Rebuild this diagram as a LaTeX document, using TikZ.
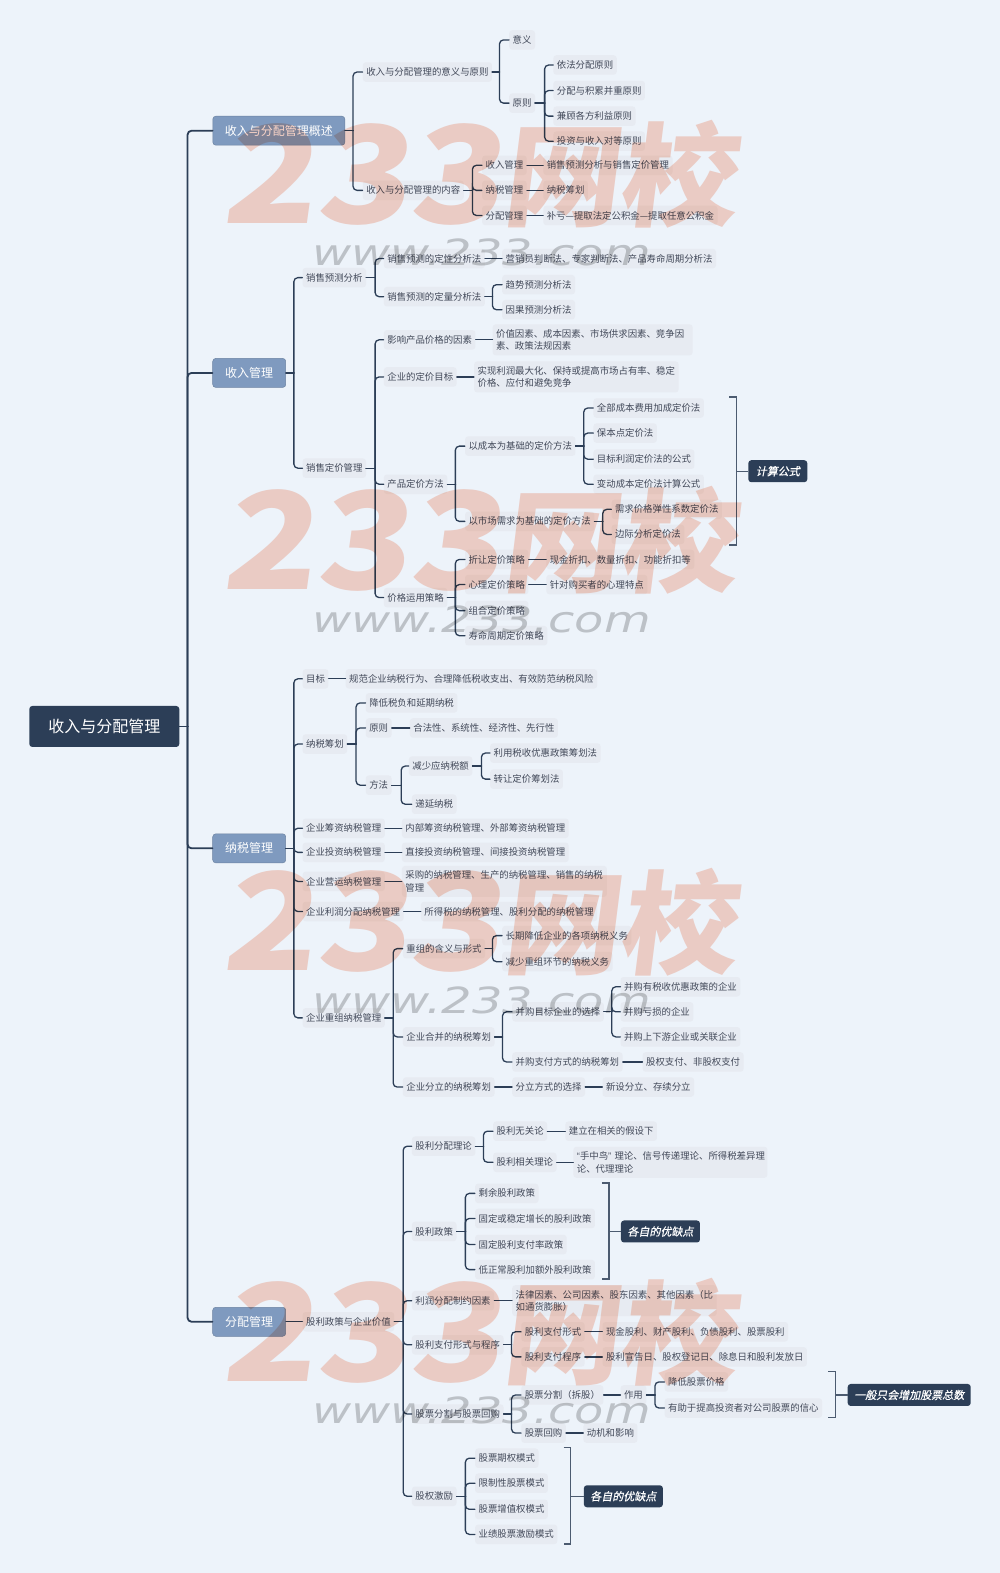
\documentclass[tikz,border=0pt]{standalone}
\usepackage{fontspec}
\setmainfont{Noto Sans CJK SC}
\newfontfamily\slantfont[FakeSlant=0.2]{Noto Sans CJK SC}
\newfontfamily\wmfont[FakeSlant=0.12]{Noto Sans CJK SC}
\newfontfamily\calloutfont[FakeSlant=0.2,FakeBold=0.6]{Noto Sans CJK SC}
\newfontfamily\wwwfont{DejaVu Sans}
\newfontfamily\quotefont{Liberation Sans}
\definecolor{bgc}{HTML}{EDF3FA}
\definecolor{itemfill}{HTML}{E7EBF2}
\definecolor{itemtext}{HTML}{424959}
\definecolor{darkc}{HTML}{2C3E57}
\definecolor{topicc}{HTML}{7F9ABF}
\definecolor{linec}{HTML}{2C3E57}
\definecolor{wmred}{HTML}{FCD6C8}
\definecolor{wmgray}{HTML}{CBCBCB}
\tikzset{
  item/.style={anchor=west,fill=itemfill,text=itemtext,rounded corners=3pt,inner xsep=3.5pt,inner ysep=0pt,minimum height=19.5pt,align=left,font=\fontsize{9.4}{12.5}\selectfont},
  wrapitem/.style={item,minimum height=31pt},
  rootbox/.style={anchor=center,fill=darkc,text=white,rounded corners=3pt,minimum width=150pt,minimum height=41pt,inner sep=0pt,font=\fontsize{16}{18}\selectfont},
  topic/.style={anchor=center,fill=topicc,draw=topicc!85!black,line width=.5pt,text=white,rounded corners=3pt,minimum height=29pt,inner sep=0pt,font=\fontsize{12}{14}\selectfont},
  callout/.style={anchor=center,fill=darkc,text=white,rounded corners=3pt,minimum height=22pt,inner sep=0pt,font=\calloutfont\fontsize{11}{13}\selectfont},
  link/.style={draw=linec,line width=1.3pt,rounded corners=4pt,line cap=round},
  brace/.style={draw=linec!85!white,line width=1.4pt,line join=miter},
  wmbig/.style={text=wmred,inner sep=0pt,font=\wmfont\bfseries\fontsize{135}{135}\selectfont,xscale=1.14,anchor=center},
  wmcjk/.style={text=wmred,inner sep=0pt,font=\wmfont\bfseries\fontsize{112}{112}\selectfont,xscale=1.05,anchor=center},
  wmweb/.style={text=wmgray,inner sep=0pt,font=\wwwfont\fontsize{36}{36}\selectfont\itshape,xscale=1.33,anchor=center},
}
\newcommand{\nitem}[4]{\node[item] (#1) at ({#2-3.5},#3) {#4};}
\newcommand{\tree}[3]{\draw[link] (#1.east) -- (#3,0 |- #1.east);\draw[link] (#3,0 |- #1.east) -- (#3,0 |- #2.west) -- (#2.west);}
\newcommand{\direct}[2]{\draw[link] (#1.east) -- (#2.west);}
\newcommand{\bracket}[6]{% name, x1, x2, y1, y2, callout
  \coordinate (#1a) at (#2,#4);
  \coordinate (#1b) at (#3,#4);
  \coordinate (#1c) at (#3,#5);
  \coordinate (#1d) at (#2,#5);
  \draw[brace] (#1a) -- (#1b) -- (#1c) -- (#1d);
  \draw[brace] (#3,0 |- #6.west) -- (#6.west);}
\newcommand{\wmark}[2]{%
  \node[wmbig] (wma#1) at (361,{#1+174-122}) {233};
  \node[wmcjk] (wmb#1) at (617,{#1+174-122}) {网校};
  \node[wmweb] (wmc#1) at (480,{#2}) {www.233.com};}
\begin{document}
\begin{tikzpicture}[x=1.003pt,y=-1.003pt]
\useasboundingbox (0,0) rectangle (997,1568.3);
\fill[bgc] (0,0) rectangle (997,1568.3);
\begin{scope}[yshift=-0.8pt]
% root and topics
\node[rootbox] (root) at (104,723.5) {收入与分配管理};
\node[topic,minimum width=132pt] (ta) at (278,129.5) {收入与分配管理概述};
\node[topic,minimum width=73pt] (tb) at (248.5,371) {收入管理};
\node[topic,minimum width=73pt] (tc) at (248.5,845) {纳税管理};
\node[topic,minimum width=73pt] (td) at (248.5,1317) {分配管理};
\begin{scope}[link/.append style={line width=1.8pt}]
\tree{root}{ta}{187}\tree{root}{tb}{187}\tree{root}{tc}{187}\tree{root}{td}{187}
\end{scope}
% A
\nitem{a1}{365}{71}{收入与分配管理的意义与原则}
\nitem{a2}{365}{189}{收入与分配管理的内容}
\tree{ta}{a1}{352}\tree{ta}{a2}{352}
\nitem{a11}{511}{39}{意义}
\nitem{a12}{511}{102}{原则}
\tree{a1}{a11}{498}\tree{a1}{a12}{498}
\nitem{a121}{555}{64}{依法分配原则}
\nitem{a122}{555}{89.5}{分配与积累并重原则}
\nitem{a123}{555}{115}{兼顾各方利益原则}
\nitem{a124}{555}{140}{投资与收入对等原则}
\tree{a12}{a121}{543}\tree{a12}{a122}{543}\tree{a12}{a123}{543}\tree{a12}{a124}{543}
\nitem{a21}{484}{164}{收入管理}
\nitem{a22}{484}{189}{纳税管理}
\nitem{a23}{484}{214}{分配管理}
\tree{a2}{a21}{471}\tree{a2}{a22}{471}\tree{a2}{a23}{471}
\nitem{a211}{545}{164}{销售预测分析与销售定价管理}
\nitem{a221}{545}{189}{纳税筹划}
\nitem{a231}{545}{214}{补亏—提取法定公积金—提取任意公积金}
\direct{a21}{a211}\direct{a22}{a221}\direct{a23}{a231}
% B
\nitem{b1}{305}{276}{销售预测分析}
\nitem{b2}{305}{466}{销售定价管理}
\tree{tb}{b1}{293}\tree{tb}{b2}{293}
\nitem{b11}{386}{257}{销售预测的定性分析法}
\nitem{b12}{386}{295}{销售预测的定量分析法}
\tree{b1}{b11}{374}\tree{b1}{b12}{374}
\nitem{b111}{504}{257}{营销员判断法、专家判断法、产品寿命周期分析法}
\direct{b11}{b111}
\nitem{b121}{504}{283}{趋势预测分析法}
\nitem{b122}{504}{308}{因果预测分析法}
\tree{b12}{b121}{491}\tree{b12}{b122}{491}
\nitem{b21}{386}{338}{影响产品价格的因素}
\nitem{b22}{386}{375}{企业的定价目标}
\nitem{b23}{386}{482}{产品定价方法}
\nitem{b24}{386}{595}{价格运用策略}
\tree{b2}{b21}{374}\tree{b2}{b22}{374}\tree{b2}{b23}{374}\tree{b2}{b24}{374}
\node[wrapitem,text width=193pt] (b211) at (491,338) {价值因素、成本因素、市场供求因素、竞争因\\素、政策法规因素};
\node[wrapitem,text width=197.5pt] (b221) at (472.5,375) {实现利润最大化、保持或提高市场占有率、稳定\\价格、应付和避免竞争};
\direct{b21}{b211}\direct{b22}{b221}
\nitem{b231}{467}{444}{以成本为基础的定价方法}
\nitem{b232}{467}{519}{以市场需求为基础的定价方法}
\tree{b23}{b231}{454}\tree{b23}{b232}{454}
\nitem{b2311}{595}{406}{全部成本费用加成定价法}
\nitem{b2312}{595}{431}{保本点定价法}
\nitem{b2313}{595}{457}{目标利润定价法的公式}
\nitem{b2314}{595}{482}{变动成本定价法计算公式}
\tree{b231}{b2311}{582}\tree{b231}{b2312}{582}\tree{b231}{b2313}{582}\tree{b231}{b2314}{582}
\nitem{b2321}{613}{507}{需求价格弹性系数定价法}
\nitem{b2322}{613}{532}{边际分析定价法}
\tree{b232}{b2321}{601}\tree{b232}{b2322}{601}
\node[callout,minimum width=59pt] (cb) at (775.5,469) {计算公式};
\bracket{brb}{727}{734}{395}{542.5}{cb}
\nitem{b241}{467}{557}{折让定价策略}
\nitem{b242}{467}{582}{心理定价策略}
\nitem{b243}{467}{608}{组合定价策略}
\nitem{b244}{467}{633}{寿命周期定价策略}
\tree{b24}{b241}{454}\tree{b24}{b242}{454}\tree{b24}{b243}{454}\tree{b24}{b244}{454}
\nitem{b2411}{548}{557}{现金折扣、数量折扣、功能折扣等}
\nitem{b2421}{548}{582}{针对购买者的心理特点}
\direct{b241}{b2411}\direct{b242}{b2421}
% C
\nitem{c1}{305}{676}{目标}
\nitem{c2}{305}{741}{纳税筹划}
\nitem{c3}{305}{825}{企业筹资纳税管理}
\nitem{c4}{305}{849}{企业投资纳税管理}
\nitem{c5}{305}{878}{企业营运纳税管理}
\nitem{c6}{305}{908}{企业利润分配纳税管理}
\nitem{c7}{305}{1014}{企业重组纳税管理}
\tree{tc}{c1}{293}\tree{tc}{c2}{293}\tree{tc}{c3}{293}\tree{tc}{c4}{293}\tree{tc}{c5}{293}\tree{tc}{c6}{293}\tree{tc}{c7}{293}
\nitem{c11}{348}{676}{规范企业纳税行为、合理降低税收支出、有效防范纳税风险}
\direct{c1}{c11}
\nitem{c21}{368}{700}{降低税负和延期纳税}
\nitem{c22}{368}{725}{原则}
\nitem{c23}{368}{782}{方法}
\tree{c2}{c21}{355}\tree{c2}{c22}{355}\tree{c2}{c23}{355}
\nitem{c221}{412}{725}{合法性、系统性、经济性、先行性}
\direct{c22}{c221}
\nitem{c231}{411}{763}{减少应纳税额}
\nitem{c232}{414}{801}{递延纳税}
\tree{c23}{c231}{400}\tree{c23}{c232}{400}
\nitem{c2311}{492}{750}{利用税收优惠政策筹划法}
\nitem{c2312}{492}{776}{转让定价筹划法}
\tree{c231}{c2311}{480}\tree{c231}{c2312}{480}
\nitem{c31}{404}{825}{内部筹资纳税管理、外部筹资纳税管理}
\nitem{c41}{404}{849}{直接投资纳税管理、间接投资纳税管理}
\node[wrapitem,text width=198pt] (c51) at (400.5,878) {采购的纳税管理、生产的纳税管理、销售的纳税\\管理};
\nitem{c61}{423}{908}{所得税的纳税管理、股利分配的纳税管理}
\direct{c3}{c31}\direct{c4}{c41}\direct{c5}{c51}\direct{c6}{c61}
\nitem{c71}{405}{945}{重组的含义与形式}
\nitem{c72}{405}{1033}{企业合并的纳税筹划}
\nitem{c73}{405}{1083}{企业分立的纳税筹划}
\tree{c7}{c71}{392}\tree{c7}{c72}{392}\tree{c7}{c73}{392}
\nitem{c711}{504}{932}{长期降低企业的各项纳税义务}
\nitem{c712}{504}{958}{减少重组环节的纳税义务}
\tree{c71}{c711}{491}\tree{c71}{c712}{491}
\nitem{c721}{514}{1008}{并购目标企业的选择}
\nitem{c722}{514}{1058}{并购支付方式的纳税筹划}
\tree{c72}{c721}{501}\tree{c72}{c722}{501}
\nitem{c7211}{622}{983}{并购有税收优惠政策的企业}
\nitem{c7212}{622}{1008}{并购亏损的企业}
\nitem{c7213}{622}{1033}{并购上下游企业或关联企业}
\tree{c721}{c7211}{610}\tree{c721}{c7212}{610}\tree{c721}{c7213}{610}
\nitem{c7221}{644}{1058}{股权支付、非股权支付}
\direct{c722}{c7221}
\nitem{c731}{514}{1083}{分立方式的选择}
\nitem{c7311}{604}{1083}{新设分立、存续分立}
\direct{c73}{c731}\direct{c731}{c7311}
% D
\nitem{d0}{305}{1317}{股利政策与企业价值}
\direct{td}{d0}
\nitem{d1}{414}{1142}{股利分配理论}
\nitem{d2}{414}{1227}{股利政策}
\nitem{d3}{414}{1296}{利润分配制约因素}
\nitem{d4}{414}{1340}{股利支付形式与程序}
\nitem{d5}{414}{1409}{股票分割与股票回购}
\nitem{d6}{414}{1491}{股权激励}
\tree{d0}{d1}{402}\tree{d0}{d2}{402}\tree{d0}{d3}{402}\tree{d0}{d4}{402}\tree{d0}{d5}{402}\tree{d0}{d6}{402}
\nitem{d11}{495}{1127}{股利无关论}
\nitem{d12}{495}{1158}{股利相关理论}
\tree{d1}{d11}{482}\tree{d1}{d12}{482}
\nitem{d111}{567}{1127}{建立在相关的假设下}
\node[wrapitem,text width=187pt] (d121) at (571.5,1158) {\mbox{{\quotefont“}手中鸟{\quotefont”} 理论、信号传递理论、所得税差异理}\\论、代理理论};
\direct{d11}{d111}\direct{d12}{d121}
\nitem{d21}{477}{1189}{剩余股利政策}
\nitem{d22}{477}{1214}{固定或稳定增长的股利政策}
\nitem{d23}{477}{1240}{固定股利支付率政策}
\nitem{d24}{477}{1265}{低正常股利加额外股利政策}
\tree{d2}{d21}{464}\tree{d2}{d22}{464}\tree{d2}{d23}{464}\tree{d2}{d24}{464}
\node[callout,minimum width=79pt] (cd2) at (658.5,1227) {各自的优缺点};
\bracket{brd}{600}{607}{1178.5}{1274.5}{cd2}
\node[wrapitem,text width=197.5pt] (d31) at (510.5,1296) {法律因素、公司因素、股东因素、其他因素（比\\如通货膨胀）};
\direct{d3}{d31}
\nitem{d41}{523}{1327}{股利支付形式}
\nitem{d42}{523}{1352}{股利支付程序}
\tree{d4}{d41}{510}\tree{d4}{d42}{510}
\nitem{d411}{604}{1327}{现金股利、财产股利、负债股利、股票股利}
\nitem{d421}{604}{1352}{股利宣告日、股权登记日、除息日和股利发放日}
\direct{d41}{d411}\direct{d42}{d421}
\nitem{d51}{523}{1390}{股票分割（拆股）}
\nitem{d52}{523}{1428}{股票回购}
\tree{d5}{d51}{510}\tree{d5}{d52}{510}
\nitem{d511}{622}{1390}{作用}
\direct{d51}{d511}
\nitem{d5111}{666}{1377}{降低股票价格}
\nitem{d5112}{666}{1403}{有助于提高投资者对公司股票的信心}
\tree{d511}{d5111}{653}\tree{d511}{d5112}{653}
\node[callout,minimum width=123pt] (cd5) at (906.5,1390) {一般只会增加股票总数};
\bracket{bre}{826}{833}{1366.5}{1412.5}{cd5}
\nitem{d521}{585}{1428}{动机和影响}
\direct{d52}{d521}
\nitem{d61}{477}{1453}{股票期权模式}
\nitem{d62}{477}{1478}{限制性股票模式}
\nitem{d63}{477}{1504}{股票增值权模式}
\nitem{d64}{477}{1529}{业绩股票激励模式}
\tree{d6}{d61}{464}\tree{d6}{d62}{464}\tree{d6}{d63}{464}\tree{d6}{d64}{464}
\node[callout,minimum width=79pt] (cd6) at (621.5,1491) {各自的优缺点};
\bracket{brf}{562}{569}{1442.5}{1538.5}{cd6}
\end{scope}
% printed marks across the sheet
\begin{scope}[blend mode=multiply]
\wmark{122}{252}
\wmark{487}{618}
\wmark{867}{997}
\wmark{1276}{1406}
\end{scope}
\end{tikzpicture}
\end{document}
